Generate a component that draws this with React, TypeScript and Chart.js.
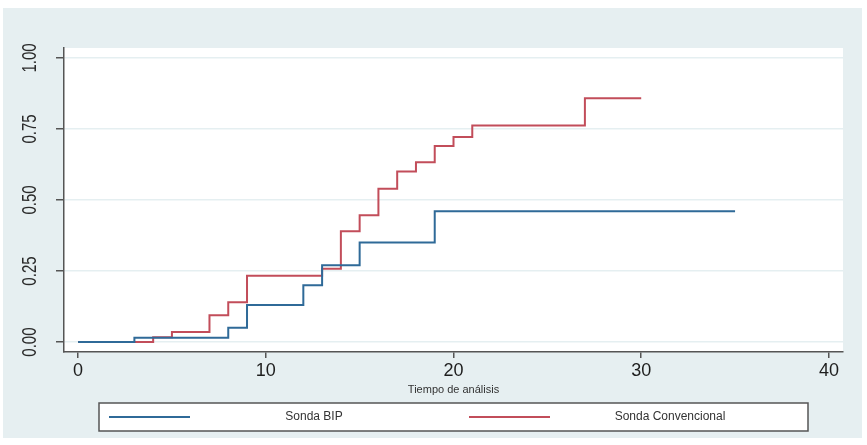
import React, { useEffect, useRef } from "react";
import { Chart, registerables } from "chart.js";

Chart.register(...registerables);

const bipTimes = [0, 3, 8, 9, 12, 13, 15, 19, 35];
const bipValues = [0, 0.015, 0.05, 0.13, 0.2, 0.27, 0.35, 0.46, 0.46];
const convTimes = [0, 4, 5, 7, 8, 9, 13, 14, 15, 16, 17, 18, 19, 20, 21, 27, 30];
const convValues = [0, 0.017, 0.035, 0.094, 0.14, 0.233, 0.258, 0.39, 0.446, 0.54, 0.6, 0.633, 0.69, 0.722, 0.762, 0.858, 0.858];
const seriesLabels = ["Sonda BIP", "Sonda Convencional"];
const xTicks = [0, 10, 20, 30, 40];
const yTicks = [0, 0.25, 0.5, 0.75, 1];
const xTitle = "Tiempo de análisis";

const BLUE = "#2f6a98";
const RED = "#c24d5a";
const BG = "#e6eff1";
const FONT = "'Liberation Sans', Arial, sans-serif";

export default function App() {
  const ref = useRef<HTMLCanvasElement | null>(null);

  useEffect(() => {
    if (!ref.current) return;
    const decor = {
      id: "decor",
      beforeDraw(chart: any) {
        const { ctx, chartArea } = chart;
        ctx.save();
        ctx.fillStyle = "#ffffff";
        ctx.fillRect(0, 0, chart.width, chart.height);
        ctx.fillStyle = BG;
        ctx.fillRect(3, 8, 859, 430);
        ctx.fillStyle = "#ffffff";
        ctx.fillRect(chartArea.left, chartArea.top, chartArea.right - chartArea.left, chartArea.bottom - chartArea.top);
        ctx.restore();
      },
      afterDraw(chart: any) {
        const { ctx } = chart;
        const ys = chart.scales.y;
        ctx.save();
        ctx.fillStyle = "#2a2a2a";
        ctx.font = `15px ${FONT}`;
        ctx.textAlign = "center";
        ctx.textBaseline = "middle";
        yTicks.forEach((v) => {
          const py = ys.getPixelForValue(v);
          ctx.save();
          ctx.translate(30, py);
          ctx.rotate(-Math.PI / 2);
          ctx.scale(1, 1.4);
          ctx.fillText(v.toFixed(2), 0, 0);
          ctx.restore();
        });
        // legend
        ctx.fillStyle = "#ffffff";
        ctx.fillRect(99, 403, 709, 28);
        ctx.strokeStyle = "#555555";
        ctx.lineWidth = 1.5;
        ctx.strokeRect(99, 403, 709, 28);
        const keys = [
          { x1: 109, x2: 190, tx: 314, color: BLUE },
          { x1: 469, x2: 550, tx: 670, color: RED },
        ];
        keys.forEach((k, i) => {
          ctx.strokeStyle = k.color;
          ctx.lineWidth = 2;
          ctx.beginPath();
          ctx.moveTo(k.x1, 417);
          ctx.lineTo(k.x2, 417);
          ctx.stroke();
          ctx.fillStyle = "#333333";
          ctx.font = `12px ${FONT}`;
          ctx.textAlign = "center";
          ctx.textBaseline = "middle";
          ctx.fillText(seriesLabels[i], k.tx, 417);
        });
        ctx.restore();
      },
    };

    const chart = new Chart(ref.current, {
      type: "line",
      data: {
        datasets: [
          {
            label: seriesLabels[0],
            data: bipTimes.map((t, i) => ({ x: t, y: bipValues[i] })),
            borderColor: BLUE,
            borderWidth: 2,
            pointRadius: 0,
            stepped: true,
            fill: false,
          },
          {
            label: seriesLabels[1],
            data: convTimes.map((t, i) => ({ x: t, y: convValues[i] })),
            borderColor: RED,
            borderWidth: 2,
            pointRadius: 0,
            stepped: true,
            fill: false,
          },
        ],
      },
      options: {
        animation: false,
        responsive: false,
        layout: { padding: { left: 0, top: 48, right: 24, bottom: 48 } },
        plugins: { legend: { display: false }, tooltip: { enabled: false } },
        scales: {
          x: {
            type: "linear",
            min: -0.75,
            max: 40.75,
            afterFit: (s: any) => {
              s.height = 45;
            },
            afterBuildTicks: (s: any) => {
              s.ticks = xTicks.map((v) => ({ value: v }));
            },
            grid: { drawOnChartArea: false, tickLength: 6, tickColor: "#555555", lineWidth: 1.5 },
            border: { color: "#555555", width: 1.5 },
            ticks: { color: "#1e1e1e", font: { size: 18, family: FONT }, padding: 2, maxRotation: 0, autoSkip: false },
            title: { display: true, text: xTitle, color: "#333333", font: { size: 11, family: FONT }, padding: { top: 0, bottom: 0 } },
          },
          y: {
            type: "linear",
            min: -0.035,
            max: 1.035,
            afterFit: (s: any) => {
              s.width = 64;
            },
            afterBuildTicks: (s: any) => {
              s.ticks = yTicks.map((v) => ({ value: v }));
            },
            grid: { color: "#e5eff1", tickColor: "#555555", tickLength: 8, lineWidth: 1.5 },
            border: { color: "#555555", width: 1.5 },
            ticks: { display: false },
          },
        },
      },
      plugins: [decor],
    });
    return () => chart.destroy();
  }, []);

  return (
    <div style={{ position: "absolute", left: 0, top: 0, width: 867, height: 445 }}>
      <canvas ref={ref} width={867} height={445} style={{ width: 867, height: 445 }} />
    </div>
  );
}
